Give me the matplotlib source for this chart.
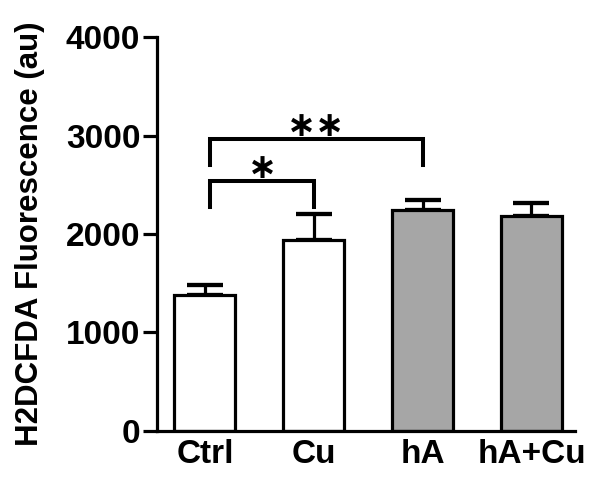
import matplotlib

matplotlib.use("Agg")

import matplotlib.pyplot as plt  # noqa: E402
import numpy as np  # noqa: E402

groups = ["Ctrl", "Cu", "hA", "hA+Cu"]
means = [1380, 1940, 2240, 2180]
sems = [100, 260, 105, 140]
fills = ["white", "white", "#a6a6a6", "#a6a6a6"]

# significance brackets: (left group, right group, bar height, leg bottom, label)
brackets = [(0, 1, 2540, 2275, "\u2217"), (0, 2, 2965, 2700, "\u2217\u2217")]

plt.rcParams["font.family"] = ["Liberation Sans", "DejaVu Sans"]
LW = 2.3

fig = plt.figure(figsize=(6.04, 4.83), dpi=100)
ax = fig.add_axes([0.26, 0.108, 0.692, 0.815])

x = np.arange(len(groups))
ax.errorbar(x, means, yerr=[np.zeros(len(sems)), sems], fmt="none",
            ecolor="black", elinewidth=LW, capsize=13, capthick=LW + 0.8, zorder=1)
ax.bar(x, means, width=0.56, color=fills, edgecolor="black", linewidth=LW, zorder=2)

for i, j, top, leg, label in brackets:
    xl, xr = x[i] + 0.05, x[j]
    ax.plot([xl, xl, xr, xr], [leg, top, top, leg], color="black", lw=LW + 0.6,
            solid_joinstyle="miter", clip_on=False)
    ax.text((xl + xr) / 2, top + 130, label, ha="center", va="center",
            fontsize=25, family="DejaVu Sans", fontweight="bold")

ax.set_xlim(-0.44, 3.40)
ax.set_ylim(0, 4000)
ax.set_yticks([0, 1000, 2000, 3000, 4000])
ax.set_xticks(x)
ax.set_xticklabels(groups)
for s in ("top", "right"):
    ax.spines[s].set_visible(False)
for s in ("left", "bottom"):
    ax.spines[s].set_linewidth(LW)
ax.tick_params(axis="y", length=10, width=LW, labelsize=24, pad=2)
ax.tick_params(axis="x", length=0, labelsize=24, pad=6)
for lab in ax.get_xticklabels() + ax.get_yticklabels():
    lab.set_fontweight("bold")
ax.set_ylabel("H2DCFDA Fluorescence (au)", fontsize=22.5, fontweight="bold", labelpad=15)

fig.savefig("out.png", dpi=100)
